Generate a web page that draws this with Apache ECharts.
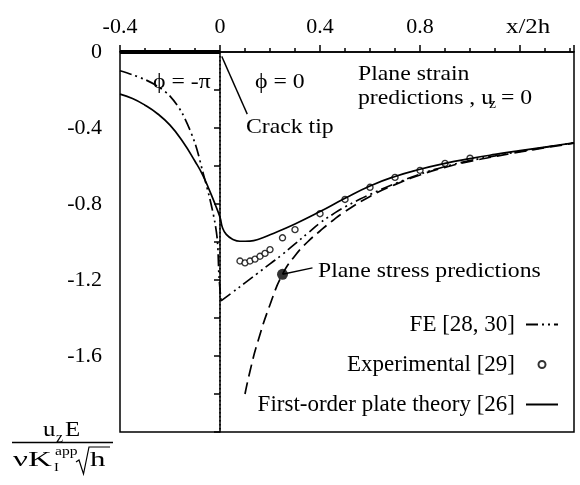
<!DOCTYPE html>
<html>
<head>
<meta charset="utf-8">
<script src="https://cdn.jsdelivr.net/npm/echarts@6/dist/echarts.min.js"></script>
<style>
  html, body { margin: 0; padding: 0; background: #fff; }
  #chart { width: 580px; height: 485px; }
</style>
</head>
<body>
<div id="chart"></div>
<script>
// x/2h against u_z E / (v K_I^app sqrt(h))
const plateX = [-0.4, -0.35, -0.3, -0.25, -0.2, -0.15, -0.1, -0.07, -0.04, -0.02, 0, 0.01, 0.025, 0.05, 0.08, 0.12, 0.16, 0.2, 0.3, 0.4, 0.5, 0.6, 0.7, 0.8, 0.9, 1.0, 1.1, 1.2, 1.3, 1.416];
const plateY = [-0.222, -0.245, -0.28, -0.325, -0.385, -0.47, -0.575, -0.645, -0.735, -0.8, -0.87, -0.925, -0.96, -0.985, -0.996, -0.995, -0.983, -0.962, -0.905, -0.84, -0.77, -0.705, -0.655, -0.617, -0.586, -0.561, -0.539, -0.519, -0.5, -0.478];

// FE curve, crack face side then ligament side (sharp corner at the tip)
const feLeftX = [-0.4, -0.35, -0.3, -0.25, -0.2, -0.15, -0.1, -0.07, -0.04, -0.02, -0.01, -0.004, 0.004];
const feLeftY = [-0.099, -0.12, -0.145, -0.18, -0.232, -0.325, -0.48, -0.625, -0.776, -0.9, -1.0, -1.18, -1.31];
const feRightX = [0.004, 0.05, 0.1, 0.15, 0.2, 0.25, 0.3, 0.35, 0.4, 0.45, 0.5, 0.6, 0.7, 0.8, 0.9, 1.0, 1.1, 1.2, 1.3, 1.416];
const feRightY = [-1.31, -1.265, -1.215, -1.165, -1.115, -1.065, -1.01, -0.955, -0.9, -0.855, -0.815, -0.75, -0.693, -0.643, -0.603, -0.572, -0.547, -0.523, -0.502, -0.478];

const expX = [0.08, 0.1, 0.12, 0.14, 0.16, 0.18, 0.2, 0.25, 0.3, 0.4, 0.5, 0.6, 0.7, 0.8, 0.9, 1.0];
const expY = [-1.1, -1.11, -1.1, -1.09, -1.075, -1.06, -1.04, -0.978, -0.935, -0.851, -0.776, -0.712, -0.66, -0.623, -0.586, -0.559];

const stressX = [0.1, 0.12, 0.15, 0.2, 0.25, 0.3, 0.35, 0.4, 0.45, 0.5, 0.6, 0.7, 0.8, 0.9, 1.0, 1.1, 1.2, 1.3, 1.416];
const stressY = [-1.8, -1.68, -1.53, -1.33, -1.17, -1.072, -1.0, -0.942, -0.888, -0.84, -0.76, -0.698, -0.647, -0.607, -0.576, -0.55, -0.526, -0.504, -0.48];
const stressDot = [0.25, -1.17];

const crackFace = [[-0.4, 0], [0, 0]];
const crackTipLine = [[0, 0], [0, -2]];
const crackTipLeader = [[0.007, -0.023], [0.109, -0.327]];
const stressLeader = [[0.25, -1.17], [0.37, -1.136]];

const xLabelValues = [-0.4, 0, 0.4, 0.8];
const yLabelValues = [0, -0.4, -0.8, -1.2, -1.6];
const legendNames = ['FE [28, 30]', 'Experimental [29]', 'First-order plate theory [26]'];

const zip = (xs, ys) => xs.map((x, i) => [x, ys[i]]);
const near = (v, list) => list.some(t => Math.abs(t - v) < 1e-6);
const fmt = v => String(+v.toFixed(1));

const FONT = 'Liberation Serif';
const black = '#000';
const LW = 1.7;
const feDash = [12, 4, 2, 4, 2, 4];

const txt = (text, x, y, size, sx) => ({
  type: 'text', x: x, y: y, silent: true, scaleX: sx || 1.13,
  style: {
    text: text, fontFamily: FONT, fontSize: size, fill: black,
    align: 'left', verticalAlign: 'middle', textAlign: 'left', textVerticalAlign: 'middle'
  }
});

const myChart = echarts.init(document.getElementById('chart'), null, { width: 580, height: 485 });

myChart.setOption({
  animation: false,
  backgroundColor: '#fff',
  grid: { left: 120, top: 52, right: 6, bottom: 53, show: true, borderColor: black, borderWidth: 1.5 },
  xAxis: [{
    type: 'value', position: 'top', min: -0.4, max: 1.416, interval: 0.4,
    axisLine: { show: true, lineStyle: { color: black, width: 1.5 } },
    axisTick: { show: true, inside: false, length: 7, lineStyle: { color: black, width: 1.5 } },
    axisLabel: { margin: 14, fontFamily: FONT, fontSize: 22, color: black,
      formatter: v => near(v, xLabelValues) ? fmt(v) : '' },
    splitLine: { show: false }
  }, {
    type: 'value', position: 'top', min: -0.4, max: 1.416, interval: 0.1,
    axisLine: { show: false },
    axisTick: { show: true, inside: false, length: 4, lineStyle: { color: black, width: 1.5 } },
    axisLabel: { show: false },
    splitLine: { show: false }
  }],
  yAxis: {
    type: 'value', min: -2, max: 0, interval: 0.2,
    axisLine: { show: true, lineStyle: { color: black, width: 1.5 } },
    axisTick: { show: true, inside: false, length: 6, lineStyle: { color: black, width: 1.5 } },
    axisLabel: { margin: 18, fontFamily: FONT, fontSize: 22, color: black,
      formatter: v => near(v, yLabelValues) ? fmt(v) : '' },
    splitLine: { show: false }
  },
  legend: {
    orient: 'vertical', right: 21, top: 313, align: 'right', padding: 0,
    itemWidth: 32, itemHeight: 7, itemGap: 17, selectedMode: false,
    textStyle: { fontFamily: FONT, fontSize: 23, color: black, padding: [0, 6, 0, 0] },
    data: [
      { name: legendNames[0], itemStyle: { opacity: 0 } },
      { name: legendNames[1] },
      { name: legendNames[2], itemStyle: { opacity: 0 } }
    ]
  },
  series: [{
    name: legendNames[2], type: 'line', data: zip(plateX, plateY),
    symbol: 'none', smooth: 0.5, color: black,
    lineStyle: { color: black, width: LW }
  }, {
    name: legendNames[0], type: 'line', data: zip(feLeftX, feLeftY),
    symbol: 'none', smooth: 0.3, color: black,
    lineStyle: { color: black, width: LW, type: feDash }
  }, {
    name: legendNames[0], type: 'line', data: zip(feRightX, feRightY),
    symbol: 'none', smooth: 0.5, color: black,
    lineStyle: { color: black, width: LW, type: feDash }
  }, {
    name: 'Plane stress', type: 'line', data: zip(stressX, stressY),
    symbol: 'none', smooth: 0.5, color: black,
    lineStyle: { color: black, width: LW, type: [12, 6] }
  }, {
    name: legendNames[1], type: 'scatter', data: zip(expX, expY),
    symbol: 'circle', symbolSize: 6,
    itemStyle: { color: '#fff', borderColor: black, borderWidth: 1.4 }
  }, {
    name: 'stress dot', type: 'scatter', data: [stressDot],
    symbol: 'circle', symbolSize: 11, itemStyle: { color: black }, z: 5
  }, {
    name: 'crack face', type: 'line', data: crackFace, symbol: 'none', clip: false,
    lineStyle: { color: black, width: 4 }, z: 6
  }, {
    name: 'crack tip', type: 'line', data: crackTipLine, symbol: 'none',
    lineStyle: { color: black, width: 1.5, type: [1.5, 2.5] }
  }, {
    name: 'tip leader', type: 'line', data: crackTipLeader, symbol: 'none',
    lineStyle: { color: black, width: 1.4 }
  }, {
    name: 'stress leader', type: 'line', data: stressLeader, symbol: 'none',
    lineStyle: { color: black, width: 1.4 }
  }],
  graphic: [
    txt('x/2h', 506, 27, 22),
    txt('\u03d5 = -\u03c0', 153, 82, 21),
    txt('\u03d5 = 0', 255, 82, 21),
    txt('Crack tip', 246, 127, 21),
    txt('Plane strain', 358, 74, 21),
    txt('predictions , u', 358, 98, 21),
    txt('z', 489, 104, 14),
    txt('= 0', 501, 98, 21),
    txt('Plane stress predictions', 318, 271, 21),
    // axis title as a fraction
    txt('u', 43, 430, 22),
    txt('z', 56, 438, 14),
    txt('E', 65, 430, 22),
    { type: 'line', silent: true, shape: { x1: 12, y1: 442.5, x2: 113, y2: 442.5 }, style: { stroke: black, lineWidth: 1.5 } },
    txt('\u03bdK', 13, 460, 22, 1.5),
    txt('I', 54, 468, 13),
    txt('app', 55, 452, 13, 1.2),
    { type: 'polyline', silent: true, shape: { points: [[76, 462], [79, 460], [83.5, 474], [89, 447], [110, 447]] }, style: { stroke: black, lineWidth: 1.2, fill: null } },
    txt('h', 90, 460, 22, 1.4)
  ]
});
</script>
</body>
</html>
